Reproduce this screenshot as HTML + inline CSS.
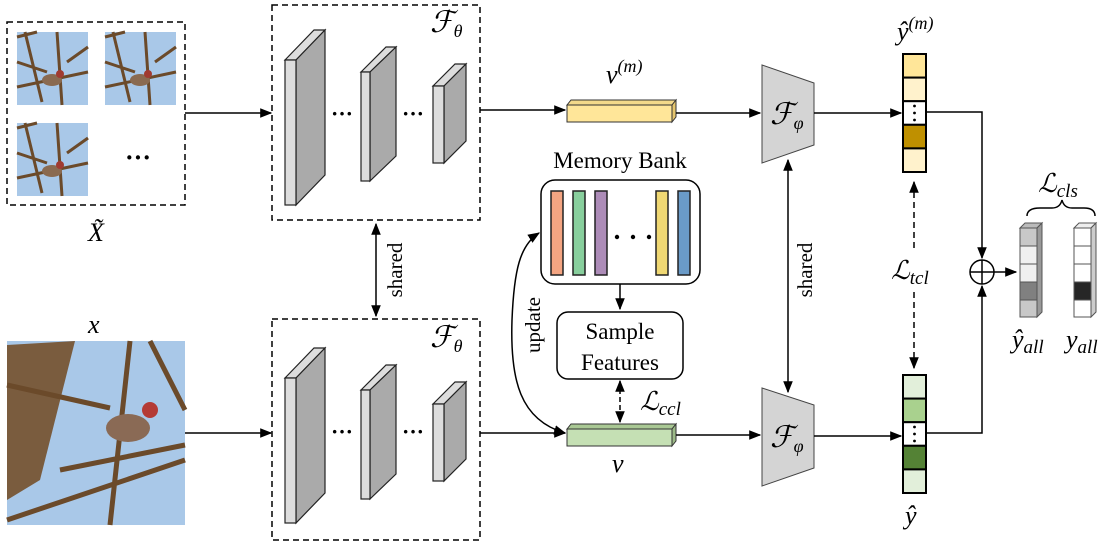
<!DOCTYPE html>
<html><head><meta charset="utf-8"><style>
body{margin:0;background:#fff;width:1111px;height:548px;overflow:hidden}
svg{display:block}
text{font-family:"Liberation Serif","DejaVu Serif",serif;fill:#000}
.m{font-style:italic}
</style></head><body>
<svg width="1111" height="548" viewBox="0 0 1111 548" xmlns="http://www.w3.org/2000/svg">
<defs>
<marker id="a" viewBox="0 0 10 10" refX="9" refY="5" markerWidth="8" markerHeight="8" orient="auto-start-reverse"><path d="M0,1 L10,5 L0,9 z" fill="#000"/></marker>
<g id="bird">
<rect x="0" y="0" width="71" height="73" fill="#a9c8e8"/>
<path d="M0,5 L20,0 M8,0 L25,70 M0,55 L71,40 M40,0 L45,73 M50,30 L71,15 M0,30 L30,40" stroke="#6b4a2a" stroke-width="3" fill="none"/>
<ellipse cx="35" cy="48" rx="10" ry="6" fill="#8a6a50"/>
<circle cx="43" cy="42" r="4" fill="#a03a30"/>
</g>
<g id="net">
<polygon points="285,60 314,30 325,30 296,60" fill="#ddd" stroke="#222" stroke-width="1.2"/>
<polygon points="296,60 325,30 325,175 296,205" fill="#aaa" stroke="#222" stroke-width="1.2"/>
<rect x="285" y="60" width="11" height="145" fill="#ddd" stroke="#222" stroke-width="1.2"/>
<polygon points="361,72 386,47 396,47 370,72" fill="#ddd" stroke="#222" stroke-width="1.2"/>
<polygon points="370,72 396,47 396,156 370,181" fill="#aaa" stroke="#222" stroke-width="1.2"/>
<rect x="361" y="72" width="9" height="109" fill="#ddd" stroke="#222" stroke-width="1.2"/>
<polygon points="433,86 455,64 466,64 444,86" fill="#ddd" stroke="#222" stroke-width="1.2"/>
<polygon points="444,86 466,64 466,141 444,163" fill="#aaa" stroke="#222" stroke-width="1.2"/>
<rect x="433" y="86" width="11" height="77" fill="#ddd" stroke="#222" stroke-width="1.2"/>
<text x="331" y="121" font-size="22" font-weight="bold">···</text>
<text x="402" y="121" font-size="22" font-weight="bold">···</text>
</g>
</defs>

<rect x="7" y="22" width="178" height="183" fill="none" stroke="#000" stroke-width="1.5" stroke-dasharray="6,4"/>
<use href="#bird" x="17" y="32"/>
<use href="#bird" x="105" y="32"/>
<use href="#bird" x="17" y="123"/>
<text x="125" y="166" font-size="26" font-weight="bold">···</text>
<text x="88" y="241" font-size="26" class="m">X̃</text>
<line x1="185" y1="113" x2="271" y2="113" stroke="#000" stroke-width="1.5" marker-end="url(#a)"/>

<text x="88" y="333" font-size="26" class="m">x</text>
<rect x="7" y="341" width="178" height="184" fill="#a9c8e8"/>
<path d="M7,345 L75,341 L40,480 L7,500 Z" fill="#7a5c3e"/>
<path d="M7,520 L185,460 M60,470 L185,445 M130,341 L110,525 M150,341 L185,410 M7,385 L110,408" stroke="#6b4a2a" stroke-width="5" fill="none"/>
<ellipse cx="128" cy="428" rx="22" ry="14" fill="#8a6a55"/>
<circle cx="150" cy="410" r="8" fill="#b43a35"/>
<line x1="185" y1="433" x2="271" y2="433" stroke="#000" stroke-width="1.5" marker-end="url(#a)"/>

<rect x="272" y="5" width="208" height="215" fill="none" stroke="#000" stroke-width="1.5" stroke-dasharray="6,4"/>
<text x="430" y="32" font-size="30" class="m">ℱ<tspan font-size="18" dy="5">θ</tspan></text>
<use href="#net"/>
<rect x="272" y="319" width="208" height="221" fill="none" stroke="#000" stroke-width="1.5" stroke-dasharray="6,4"/>
<text x="430" y="347" font-size="30" class="m">ℱ<tspan font-size="18" dy="5">θ</tspan></text>
<use href="#net" y="318"/>
<line x1="376" y1="224" x2="376" y2="316" stroke="#000" stroke-width="1.5" marker-start="url(#a)" marker-end="url(#a)"/>
<text transform="translate(402,270) rotate(-90)" font-size="21" text-anchor="middle">shared</text>

<line x1="480" y1="110" x2="565" y2="110" stroke="#000" stroke-width="1.5" marker-end="url(#a)"/>
<polygon points="567,105 571,100 676,100 672,105" fill="#f3d98a" stroke="#333"/>
<polygon points="672,105 676,100 676,117 672,122" fill="#e6c66e" stroke="#333"/>
<rect x="567" y="105" width="105" height="17" fill="#ffe699" stroke="#333"/>
<text x="606" y="83" font-size="26" class="m">v<tspan font-size="18" dy="-11">(m)</tspan></text>
<line x1="676" y1="113" x2="760" y2="113" stroke="#000" stroke-width="1.5" marker-end="url(#a)"/>

<line x1="480" y1="433" x2="565" y2="433" stroke="#000" stroke-width="1.5" marker-end="url(#a)"/>
<polygon points="567,429 571,424 676,424 672,429" fill="#a9c894" stroke="#333"/>
<polygon points="672,429 676,424 676,441 672,446" fill="#9cba88" stroke="#333"/>
<rect x="567" y="429" width="105" height="17" fill="#c5e0b4" stroke="#333"/>
<text x="612" y="472" font-size="26" class="m">v</text>
<line x1="676" y1="435" x2="760" y2="435" stroke="#000" stroke-width="1.5" marker-end="url(#a)"/>

<text x="620" y="168" font-size="23" text-anchor="middle">Memory Bank</text>
<rect x="541" y="180" width="159" height="104" rx="14" fill="#fff" stroke="#000" stroke-width="1.5"/>
<rect x="551" y="191" width="12" height="84" fill="#f4a582" stroke="#222" stroke-width="1.5"/>
<rect x="573" y="191" width="12" height="84" fill="#88cf9d" stroke="#222" stroke-width="1.5"/>
<rect x="595" y="191" width="12" height="84" fill="#ad8cb8" stroke="#222" stroke-width="1.5"/>
<rect x="656" y="191" width="12" height="84" fill="#f0d873" stroke="#222" stroke-width="1.5"/>
<rect x="678" y="191" width="12" height="84" fill="#6a9bc8" stroke="#222" stroke-width="1.5"/>
<circle cx="617" cy="237" r="2.2"/><circle cx="633" cy="237" r="2.2"/><circle cx="649" cy="237" r="2.2"/>
<line x1="620" y1="284" x2="620" y2="309" stroke="#000" stroke-width="1.5" marker-end="url(#a)"/>
<rect x="557" y="312" width="126" height="67" rx="11" fill="#fff" stroke="#000" stroke-width="1.5"/>
<text x="620" y="339" font-size="23" text-anchor="middle">Sample</text>
<text x="620" y="370" font-size="23" text-anchor="middle">Features</text>
<line x1="620" y1="381" x2="620" y2="422" stroke="#000" stroke-width="1.5" stroke-dasharray="5,3" marker-start="url(#a)" marker-end="url(#a)"/>
<text x="640" y="410" font-size="26" class="m">ℒ<tspan font-size="19" dy="5">ccl</tspan></text>
<path d="M565,433 C520,420 510,380 512,320 C514,270 520,245 539,233" fill="none" stroke="#000" stroke-width="1.5" marker-start="url(#a)" marker-end="url(#a)"/>
<text transform="translate(540,325) rotate(-90)" font-size="21" text-anchor="middle">update</text>

<polygon points="762,65 814,83 814,145 762,163" fill="#d4d4d4" stroke="#444"/>
<text x="770" y="124" font-size="30" class="m">ℱ<tspan font-size="18" dy="5">φ</tspan></text>
<polygon points="762,388 814,405 814,468 762,486" fill="#d4d4d4" stroke="#444"/>
<text x="770" y="447" font-size="30" class="m">ℱ<tspan font-size="18" dy="5">φ</tspan></text>
<line x1="788" y1="160" x2="788" y2="392" stroke="#000" stroke-width="1.5" marker-start="url(#a)" marker-end="url(#a)"/>
<text transform="translate(812,270) rotate(-90)" font-size="21" text-anchor="middle">shared</text>

<line x1="814" y1="113" x2="901" y2="113" stroke="#000" stroke-width="1.5" marker-end="url(#a)"/>
<line x1="814" y1="436" x2="901" y2="436" stroke="#000" stroke-width="1.5" marker-end="url(#a)"/>

<g stroke="#000" stroke-width="2">
<rect x="903" y="54" width="23" height="23.6" fill="#ffe699"/>
<rect x="903" y="77.6" width="23" height="23.6" fill="#fff2cc"/>
<rect x="903" y="101.2" width="23" height="23.6" fill="#fff"/>
<rect x="903" y="124.8" width="23" height="23.6" fill="#bf9000"/>
<rect x="903" y="148.4" width="23" height="23.6" fill="#fff2cc"/>
<rect x="903" y="375" width="23" height="23.6" fill="#e2efda"/>
<rect x="903" y="398.6" width="23" height="23.6" fill="#a9d18e"/>
<rect x="903" y="422.2" width="23" height="23.6" fill="#fff"/>
<rect x="903" y="445.8" width="23" height="23.6" fill="#548235"/>
<rect x="903" y="469.4" width="23" height="23.6" fill="#e2efda"/>
</g>
<g fill="#000"><circle cx="914.5" cy="106" r="1.4"/><circle cx="914.5" cy="113" r="1.4"/><circle cx="914.5" cy="120" r="1.4"/>
<circle cx="914.5" cy="427" r="1.4"/><circle cx="914.5" cy="434" r="1.4"/><circle cx="914.5" cy="441" r="1.4"/></g>
<text x="897" y="40" font-size="26" class="m">ŷ<tspan font-size="18" dy="-11">(m)</tspan></text>
<text x="905" y="524" font-size="26" class="m">ŷ</text>
<line x1="914" y1="182" x2="914" y2="248" stroke="#000" stroke-width="1.5" stroke-dasharray="6,4" marker-start="url(#a)"/>
<line x1="914" y1="292" x2="914" y2="368" stroke="#000" stroke-width="1.5" stroke-dasharray="6,4" marker-end="url(#a)"/>
<text x="891" y="279" font-size="26" class="m">ℒ<tspan font-size="19" dy="5">tcl</tspan></text>

<polyline points="926,112 982,112 982,258" fill="none" stroke="#000" stroke-width="1.5" marker-end="url(#a)"/>
<polyline points="926,433 982,433 982,286" fill="none" stroke="#000" stroke-width="1.5" marker-end="url(#a)"/>
<circle cx="982" cy="272" r="12" fill="none" stroke="#000" stroke-width="1.5"/>
<line x1="970" y1="272" x2="994" y2="272" stroke="#000" stroke-width="1.5"/>
<line x1="982" y1="260" x2="982" y2="284" stroke="#000" stroke-width="1.5"/>
<line x1="994" y1="272" x2="1016" y2="272" stroke="#000" stroke-width="1.5" marker-end="url(#a)"/>

<g stroke="#555" stroke-width="1">
<polygon points="1020,228 1025,223 1042,223 1037,228" fill="#bbb"/>
<polygon points="1037,228 1042,223 1042,312 1037,317" fill="#999"/>
<rect x="1020" y="228" width="17" height="18" fill="#c8c8c8"/>
<rect x="1020" y="246" width="17" height="18" fill="#f0f0f0"/>
<rect x="1020" y="264" width="17" height="18" fill="#f0f0f0"/>
<rect x="1020" y="282" width="17" height="18" fill="#808080"/>
<rect x="1020" y="300" width="17" height="17" fill="#c8c8c8"/>
<polygon points="1074,228 1079,223 1096,223 1091,228" fill="#eee"/>
<polygon points="1091,228 1096,223 1096,312 1091,317" fill="#ccc"/>
<rect x="1074" y="228" width="17" height="18" fill="#fff"/>
<rect x="1074" y="246" width="17" height="18" fill="#fff"/>
<rect x="1074" y="264" width="17" height="18" fill="#fff"/>
<rect x="1074" y="282" width="17" height="18" fill="#262626"/>
<rect x="1074" y="300" width="17" height="17" fill="#fff"/>
</g>
<path d="M1027,216 Q1027,208 1040,208 L1052,208 Q1060,208 1062,200 Q1064,208 1072,208 L1084,208 Q1095,208 1095,216" fill="none" stroke="#000" stroke-width="1.5"/>
<text x="1038" y="192" font-size="26" class="m">ℒ<tspan font-size="19" dy="5">cls</tspan></text>
<text x="1012" y="348" font-size="26" class="m">ŷ<tspan font-size="19" dy="5">all</tspan></text>
<text x="1066" y="348" font-size="26" class="m">y<tspan font-size="19" dy="5">all</tspan></text>
</svg>
</body></html>
